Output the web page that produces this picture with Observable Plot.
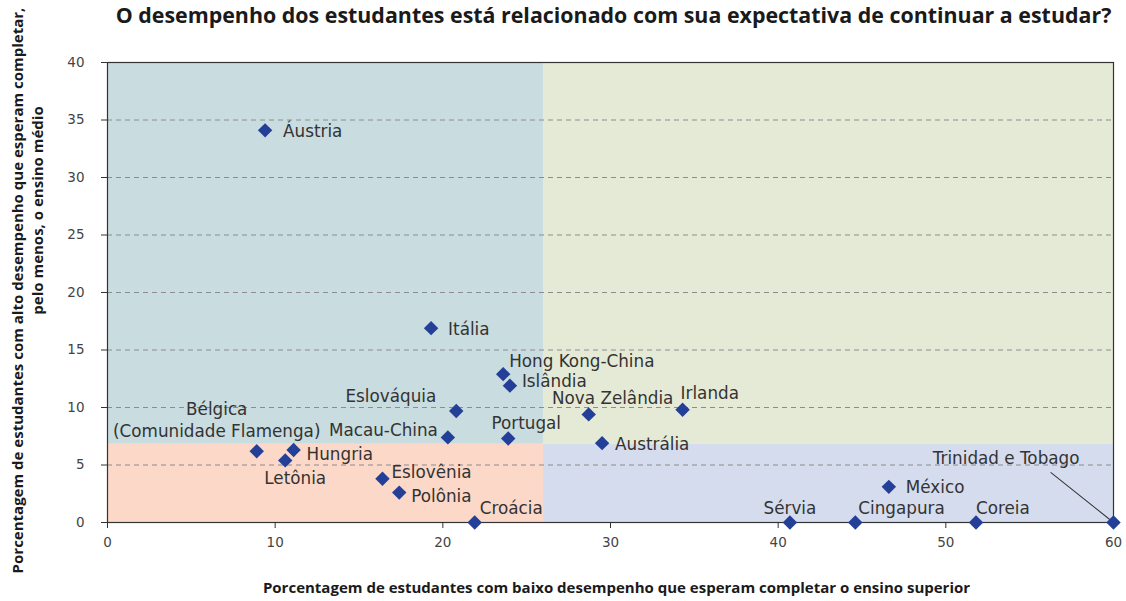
<!DOCTYPE html>
<html><head><meta charset="utf-8">
<script src="https://cdn.jsdelivr.net/npm/d3@7"></script>
<script src="https://cdn.jsdelivr.net/npm/@observablehq/plot@0.6"></script>
<style>body{margin:0;background:#fff}#chart{width:1126px;height:601px}</style>
</head><body><div id="chart"></div>
<script>
const title = "O desempenho dos estudantes está relacionado com sua expectativa de continuar a estudar?";
const xLabel = "Porcentagem de estudantes com baixo desempenho que esperam completar o ensino superior";
const yLabelLine1 = "Porcentagem de estudantes com alto desempenho que esperam completar,";
const yLabelLine2 = "pelo menos, o ensino médio";

const countries = ["Áustria","Itália","Hong Kong-China","Islândia","Eslováquia","Macau-China","Portugal","Nova Zelândia","Irlanda","Austrália","Bélgica\n(Comunidade Flamenga)","Hungria","Letônia","Eslovênia","Polônia","Croácia","Sérvia","Cingapura","México","Coreia","Trinidad e Tobago"];
const lowPerformersExpectTertiary = [9.4, 19.3, 23.6, 24.0, 20.8, 20.3, 23.9, 28.7, 34.3, 29.5, 8.9, 11.1, 10.6, 16.4, 17.4, 21.9, 40.7, 44.6, 46.6, 51.8, 60.0];
const highPerformersExpectSecondary = [34.1, 16.9, 12.9, 11.9, 9.7, 7.4, 7.3, 9.4, 9.8, 6.9, 6.2, 6.3, 5.4, 3.8, 2.6, 0, 0, 0, 3.1, 0, 0];

const xTicks = [0, 10, 20, 30, 40, 50, 60];
const yTicks = [0, 5, 10, 15, 20, 25, 30, 35, 40];
const xSplit = 26;
const ySplit = 6.8;

// label placement (pixel offsets, layout only)
const placement = {
  "Áustria": [18, 0, "start"],
  "Itália": [17, 0, "start"],
  "Hong Kong-China": [6, -14, "start"],
  "Islândia": [12, -6, "start"],
  "Eslováquia": [-20, -16, "end"],
  "Macau-China": [-10, -8, "end"],
  "Portugal": [18, -17, "middle"],
  "Nova Zelândia": [24, -17, "middle"],
  "Irlanda": [-2, -18, "start"],
  "Austrália": [13, 0, "start"],
  "Bélgica\n(Comunidade Flamenga)": [-40, -32, "middle"],
  "Hungria": [13, 3, "start"],
  "Letônia": [10, 17, "middle"],
  "Eslovênia": [9, -8, "start"],
  "Polônia": [12, 2, "start"],
  "Croácia": [5, -16, "start"],
  "Sérvia": [0, -16, "middle"],
  "Cingapura": [3, -16, "start"],
  "México": [17, -1, "start"],
  "Coreia": [0, -16, "start"],
  "Trinidad e Tobago": [-34, -66, "end"]
};

const data = countries.map((c, i) => ({country: c, x: lowPerformersExpectTertiary[i], y: highPerformersExpectSecondary[i]}));

const xMin = d3.min(xTicks), xMax = d3.max(xTicks);
const yMin = d3.min(yTicks), yMax = d3.max(yTicks);
const quadrants = [
  {x1: xMin, x2: xSplit, y1: ySplit, y2: yMax, fill: "#c9dcdf"},
  {x1: xSplit, x2: xMax, y1: ySplit, y2: yMax, fill: "#e5ead6"},
  {x1: xMin, x2: xSplit, y1: yMin, y2: ySplit, fill: "#fcd8c8"},
  {x1: xSplit, x2: xMax, y1: yMin, y2: ySplit, fill: "#d4dcee"}
];

const labelFont = "DejaVu Sans";
const boldFont = "'Open Sans', 'Noto Sans', sans-serif";

const labelMarks = data.map(d => {
  const [dx, dy, anchor] = placement[d.country];
  return Plot.text([d], {x: "x", y: "y", text: "country", dx, dy, textAnchor: anchor,
    lineAnchor: "middle", lineHeight: 1.3, fontSize: 16.8, fill: "#333", fontFamily: labelFont});
});

const trinidad = data.filter(d => d.country === "Trinidad e Tobago");

const chart = Plot.plot({
  width: 1126, height: 601,
  marginLeft: 107, marginRight: 13, marginTop: 62, marginBottom: 79,
  x: {domain: [xMin, xMax]},
  y: {domain: [yMin, yMax]},
  style: {fontFamily: labelFont, background: "#fff", overflow: "visible"},
  marks: [
    Plot.rect(quadrants, {x1: "x1", x2: "x2", y1: "y1", y2: "y2", fill: d => d.fill}),
    Plot.ruleY(yTicks.filter(t => t > yMin && t < yMax), {stroke: "#8c8c8c", strokeDasharray: "5,4", strokeWidth: 1}),
    Plot.frame({stroke: "#333", strokeWidth: 1.2}),
    Plot.axisX({ticks: xTicks, tickSize: 6, tickPadding: 9, label: null, fontSize: 13.5, fill: "#444", stroke: "#333", fontFamily: labelFont}),
    Plot.axisY({ticks: yTicks, tickSize: 6, tickPadding: 17, label: null, fontSize: 13.5, fill: "#444", stroke: "#333", fontFamily: labelFont}),
    Plot.vector(trinidad, {x: "x", y: "y", length: 80, rotate: -51.4, anchor: "start", r: 0, stroke: "#333", strokeWidth: 1}),
    Plot.dot(data, {x: "x", y: "y", symbol: "diamond2", r: 6.5, fill: "#243f97"}),
    ...labelMarks,
    Plot.text([title], {frameAnchor: "top", dx: 3, dy: -46, text: d => d, textAnchor: "middle", lineAnchor: "middle", fontSize: 21.4, fontWeight: "bold", fill: "#1a1a1a", fontFamily: boldFont}),
    Plot.text([xLabel], {frameAnchor: "bottom", dx: 6, dy: 66, text: d => d, textAnchor: "middle", lineAnchor: "middle", fontSize: 15, fontWeight: "bold", fill: "#1a1a1a", fontFamily: boldFont}),
    Plot.text([yLabelLine1], {frameAnchor: "left", dx: -89, dy: -2, rotate: -90, text: d => d, textAnchor: "middle", lineAnchor: "middle", fontSize: 15, fontWeight: "bold", fill: "#1a1a1a", fontFamily: boldFont}),
    Plot.text([yLabelLine2], {frameAnchor: "left", dx: -69, dy: -82, rotate: -90, text: d => d, textAnchor: "middle", lineAnchor: "middle", fontSize: 15, fontWeight: "bold", fill: "#1a1a1a", fontFamily: boldFont})
  ]
});
document.getElementById("chart").appendChild(chart);
</script>
</body></html>
